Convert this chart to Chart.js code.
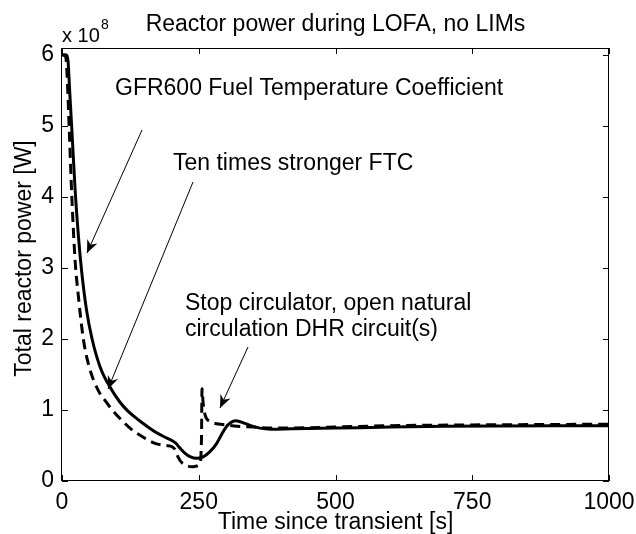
<!DOCTYPE html>
<html>
<head>
<meta charset="utf-8">
<script src="https://cdn.jsdelivr.net/npm/chart.js"></script>
<style>
  html, body { margin: 0; padding: 0; background: #fff; }
  canvas { display: block; }
</style>
</head>
<body>
<canvas id="myChart" width="636" height="534"></canvas>
<script>
//Datos, potencia en unidades de 1e8 W
const timeFtc = [0, 8, 11, 14, 18, 24, 30, 36, 45, 55, 70, 88, 105, 121, 140, 165, 185, 207, 215, 225, 235, 246, 258, 270, 282, 292, 300, 308, 317, 328, 345, 362, 381, 420, 500, 600, 700, 800, 900, 1000];
const powerFtc = [6.0, 6.0, 5.92, 5.5, 4.95, 4.1, 3.45, 2.95, 2.4, 2.0, 1.6, 1.32, 1.12, 0.98, 0.86, 0.72, 0.63, 0.54, 0.47, 0.39, 0.34, 0.32, 0.34, 0.41, 0.52, 0.66, 0.76, 0.82, 0.85, 0.83, 0.78, 0.745, 0.73, 0.735, 0.745, 0.76, 0.77, 0.775, 0.778, 0.78];

const timeStrong = [0, 5, 8, 10, 13, 18, 24, 30, 39, 50, 66, 80, 92, 110, 128, 150, 170, 190, 202, 207, 212, 220, 230, 238, 246, 252, 255, 256, 258, 262, 270, 280, 300, 320, 350, 381, 450, 500, 600, 750, 1000];
const powerStrong = [6.0, 6.0, 5.9, 5.6, 5.0, 4.0, 3.1, 2.6, 2.0, 1.6, 1.28, 1.12, 1.0, 0.85, 0.72, 0.61, 0.53, 0.5, 0.48, 0.44, 0.34, 0.25, 0.21, 0.2, 0.21, 0.24, 0.6, 1.3, 1.1, 0.92, 0.84, 0.81, 0.79, 0.77, 0.76, 0.745, 0.75, 0.76, 0.78, 0.79, 0.8];

const xTicks = [0, 250, 500, 750, 1000];
const yTicks = [0, 1, 2, 3, 4, 5, 6];

const font = '"Liberation Sans", Arial, Helvetica, sans-serif';

//Plugin para la caja, las marcas y los textos
const decor = {
  id: 'decor',
  afterDraw(chart) {
    const ctx = chart.ctx;
    const a = chart.chartArea;
    const sx = chart.scales.x, sy = chart.scales.y;
    ctx.save();
    ctx.strokeStyle = '#000';
    ctx.lineWidth = 1;
    ctx.strokeRect(Math.round(a.left) - 0.5, Math.round(a.top) + 0.5, Math.round(a.right - a.left), Math.round(a.bottom - a.top) - 1);

    //marcas hacia adentro
    ctx.beginPath();
    xTicks.forEach(v => {
      const px = Math.round(sx.getPixelForValue(v)) + 0.5;
      ctx.moveTo(px, a.bottom); ctx.lineTo(px, a.bottom - 6);
      ctx.moveTo(px, a.top); ctx.lineTo(px, a.top + 6);
    });
    yTicks.forEach(v => {
      const py = Math.round(sy.getPixelForValue(v)) + 0.5;
      ctx.moveTo(a.left, py); ctx.lineTo(a.left + 6, py);
      ctx.moveTo(a.right, py); ctx.lineTo(a.right - 6, py);
    });
    ctx.stroke();

    ctx.fillStyle = '#000';
    ctx.textBaseline = 'alphabetic';
    ctx.font = '23px ' + font;
    ctx.textAlign = 'center';
    ctx.fillText('Reactor power during LOFA, no LIMs', (a.left + a.right) / 2, 31);
    ctx.fillText('Time since transient [s]', (a.left + a.right) / 2, 529);

    ctx.textAlign = 'left';
    ctx.font = '20px ' + font;
    ctx.fillText('x 10', 62, 42);
    ctx.font = '14px ' + font;
    ctx.fillText('8', 101, 29);

    ctx.font = '23px ' + font;
    ctx.fillText('GFR600 Fuel Temperature Coefficient', 115, 95);
    ctx.fillText('Ten times stronger FTC', 173, 170);
    ctx.fillText('Stop circulator, open natural', 185, 310);
    ctx.fillText('circulation DHR circuit(s)', 185, 336);

    ctx.save();
    ctx.translate(31, (a.top + a.bottom) / 2 - 6);
    ctx.rotate(-Math.PI / 2);
    ctx.textAlign = 'center';
    ctx.fillText('Total reactor power [W]', 0, 0);
    ctx.restore();

    //flechas
    const arrow = (x0, y0, x1, y1) => {
      ctx.beginPath();
      ctx.lineWidth = 1;
      ctx.moveTo(x0, y0); ctx.lineTo(x1, y1);
      ctx.stroke();
      const ang = Math.atan2(y1 - y0, x1 - x0);
      const L = 13, W = 5.5, N = 9;
      const c = Math.cos(ang), s = Math.sin(ang);
      ctx.beginPath();
      ctx.moveTo(x1, y1);
      ctx.lineTo(x1 - L * c - W * s, y1 - L * s + W * c);
      ctx.lineTo(x1 - N * c, y1 - N * s);
      ctx.lineTo(x1 - L * c + W * s, y1 - L * s - W * c);
      ctx.closePath();
      ctx.fill();
    };
    arrow(142, 130, 87, 253);
    arrow(193, 182, 108, 389);
    arrow(248, 347, 220, 408);
    ctx.restore();
  }
};

const config = {
  type: 'line',
  data: {
    datasets: [{
      label: 'Ten times stronger FTC',
      data: timeStrong.map((t, i) => ({ x: t, y: powerStrong[i] })),
      borderColor: '#000',
      borderWidth: 3,
      borderDash: [10, 6],
      order: 0
    }, {
      label: 'GFR600 FTC',
      data: timeFtc.map((t, i) => ({ x: t, y: powerFtc[i] })),
      borderColor: '#000',
      borderWidth: 3,
      order: 1
    }]
  },
  options: {
    responsive: false,
    animation: false,
    layout: { padding: { top: 48, right: 27, left: 0, bottom: 0 } },
    plugins: { legend: { display: false }, tooltip: { enabled: false } },
    elements: {
      point: { radius: 0 },
      line: { cubicInterpolationMode: 'monotone' }
    },
    scales: {
      x: {
        type: 'linear', min: 0, max: 1000,
        grid: { display: false, drawTicks: false },
        border: { display: false },
        ticks: { color: '#000', font: { family: font, size: 23 }, padding: 8, maxRotation: 0, callback: v => String(v) },
        afterBuildTicks: s => { s.ticks = xTicks.map(v => ({ value: v })); },
        afterFit: s => { s.height = 53; s.paddingLeft = 0; s.paddingRight = 0; }
      },
      y: {
        min: 0, max: 6.1,
        grid: { display: false, drawTicks: false },
        border: { display: false },
        ticks: { color: '#000', font: { family: font, size: 23 }, padding: 8, callback: v => String(v) },
        afterBuildTicks: s => { s.ticks = yTicks.map(v => ({ value: v })); },
        afterFit: s => { s.width = 62; s.paddingTop = 0; s.paddingBottom = 0; }
      }
    }
  },
  plugins: [decor]
};

const myChart = new Chart(document.getElementById('myChart').getContext('2d'), config);
</script>
</body>
</html>
